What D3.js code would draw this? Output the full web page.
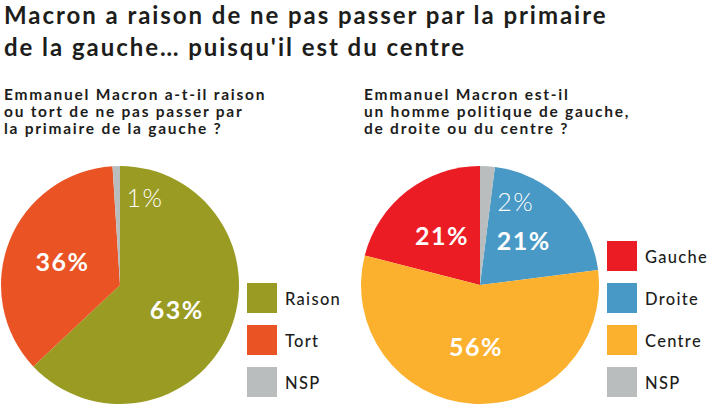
<!DOCTYPE html>
<html>
<head>
<meta charset="utf-8">
<script src="https://cdn.jsdelivr.net/npm/d3@7"></script>
<style>
  body { margin: 0; background: #fff; }
  svg { display: block; font-family: Lato, "Noto Sans", sans-serif; }
</style>
</head>
<body>
<svg width="720" height="405"></svg>
<script>
// chart data
var titleLines = ["Macron a raison de ne pas passer par la primaire", "de la gauche\u2026 puisqu'il est du centre"];

var leftQuestion = ["Emmanuel Macron a-t-il raison", "ou tort de ne pas passer par", "la primaire de la gauche ?"];
var leftCategories = ["Raison", "Tort", "NSP"];
var leftValues = [63, 36, 1];
var leftSliceOrder = ["Raison", "Tort", "NSP"];

var rightQuestion = ["Emmanuel Macron est-il", "un homme politique de gauche,", "de droite ou du centre ?"];
var rightCategories = ["Gauche", "Droite", "Centre", "NSP"];
var rightValues = [21, 21, 56, 2];
var rightSliceOrder = ["NSP", "Droite", "Centre", "Gauche"];

var colors = {
    "Raison": "#9a9b23",
    "Tort": "#ea5323",
    "NSP": "#b9bdbe",
    "Gauche": "#ec1c24",
    "Droite": "#4899c5",
    "Centre": "#fcb12e"
};

var svg = d3.select("svg");
var ink = "#1d1d1b";

// title
svg.append("g").selectAll("text")
    .data(titleLines)
    .join("text")
    .attr("x", 4)
    .attr("y", function (d, i) { return 24 + i * 32; })
    .attr("fill", ink)
    .attr("font-size", 24)
    .attr("font-weight", 700)
    .attr("letter-spacing", 1.95)
    .text(function (d) { return d; });

function drawPanel(x0, question, categories, values, sliceOrder, legendTop) {
    var g = svg.append("g");
    var radius = 119;
    var cx = x0 + 120, cy = 285;

    g.append("g").selectAll("text")
        .data(question)
        .join("text")
        .attr("x", x0 + 4)
        .attr("y", function (d, i) { return 100 + i * 17; })
        .attr("fill", ink)
        .attr("font-size", 15.5)
        .attr("font-weight", 700)
        .attr("letter-spacing", 1.75)
        .text(function (d) { return d; });

    var rows = categories.map(function (c, i) { return { cat: c, value: values[i] }; });

    var pie = d3.pie()
        .value(function (d) { return d.value; })
        .sort(function (a, b) { return sliceOrder.indexOf(a.cat) - sliceOrder.indexOf(b.cat); });

    var arc = d3.arc().innerRadius(0).outerRadius(radius);
    var labelArc = d3.arc().innerRadius(radius * 0.52).outerRadius(radius * 0.52);

    var arcs = pie(rows);
    var pg = g.append("g").attr("transform", "translate(" + cx + "," + cy + ")");

    pg.selectAll("path")
        .data(arcs)
        .join("path")
        .attr("d", arc)
        .attr("fill", function (d) { return colors[d.data.cat]; });

    pg.selectAll("text")
        .data(arcs)
        .join("text")
        .attr("transform", function (d) {
            var p;
            if (d.data.value < 5) {
                // small slice: label sits just clockwise of the slice
                var a = (d.endAngle % (2 * Math.PI)) + 0.28;
                p = [Math.sin(a) * radius * 0.76, -Math.cos(a) * radius * 0.76];
            } else {
                p = labelArc.centroid(d);
            }
            return "translate(" + p[0] + "," + p[1] + ")";
        })
        .attr("text-anchor", "middle")
        .attr("dy", "0.36em")
        .attr("fill", "#fff")
        .attr("font-size", 25)
        .attr("letter-spacing", 1.5)
        .attr("font-weight", function (d) { return d.data.value < 5 ? 300 : 700; })
        .text(function (d) { return d.data.value + "%"; });

    // legend
    var item = g.append("g").selectAll("g")
        .data(categories)
        .join("g")
        .attr("transform", function (d, i) { return "translate(" + (x0 + 247) + "," + (legendTop + i * 42) + ")"; });

    item.append("rect")
        .attr("width", 30)
        .attr("height", 30)
        .attr("fill", function (d) { return colors[d]; });

    item.append("text")
        .attr("x", 38)
        .attr("y", 22)
        .attr("fill", ink)
        .attr("font-size", 16.5)
        .attr("font-weight", 500)
        .attr("letter-spacing", 1.3)
        .text(function (d) { return d; });
}

drawPanel(0, leftQuestion, leftCategories, leftValues, leftSliceOrder, 283);
drawPanel(360, rightQuestion, rightCategories, rightValues, rightSliceOrder, 241);
</script>
</body>
</html>
